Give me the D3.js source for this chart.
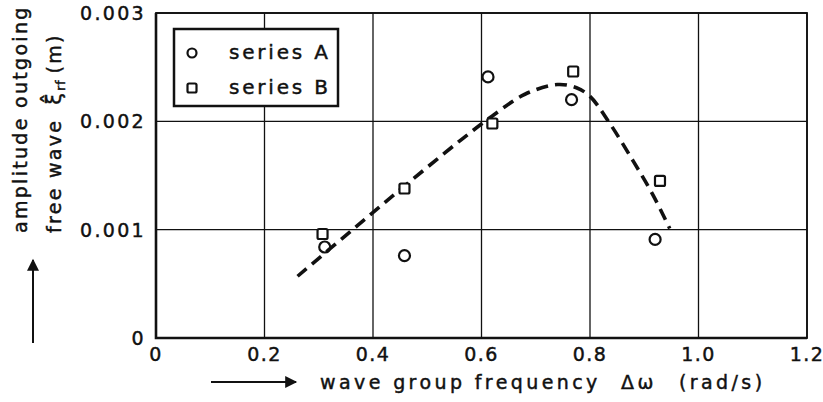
<!DOCTYPE html>
<html>
<head>
<meta charset="utf-8">
<script src="https://cdn.jsdelivr.net/npm/d3@7/dist/d3.min.js"></script>
<style>
  html, body { margin: 0; padding: 0; background: #fff; }
  svg text { font-family: "DejaVu Sans", sans-serif; fill: #111; stroke: #111; stroke-width: 0.45px; }
</style>
</head>
<body>
<svg id="chart" width="823" height="402"></svg>
<script>
// ---- data ----
const xTicks = [0, 0.2, 0.4, 0.6, 0.8, 1.0, 1.2];
const xTickLabels = ["0", "0.2", "0.4", "0.6", "0.8", "1.0", "1.2"];
const yTicks = [0, 0.001, 0.002, 0.003];
const yTickLabels = ["0", "0.001", "0.002", "0.003"];

const seriesAx = [0.311, 0.458, 0.612, 0.766, 0.920];
const seriesAy = [0.00084, 0.00076, 0.00241, 0.00220, 0.00091];
const seriesBx = [0.307, 0.458, 0.620, 0.769, 0.929];
const seriesBy = [0.00096, 0.00138, 0.00198, 0.00246, 0.00145];

const curveX = [0.261, 0.36, 0.46, 0.56, 0.62, 0.68, 0.74, 0.775, 0.80, 0.834, 0.88, 0.915, 0.947];
const curveY = [0.00057, 0.00099, 0.00141, 0.00182, 0.00205, 0.00225, 0.00234, 0.00231, 0.00223, 0.00200, 0.00163, 0.00133, 0.00101];

const legendLabels = ["series A", "series B"];

// ---- layout ----
const svg = d3.select("#chart");
const x = d3.scaleLinear().domain([0, 1.2]).range([156, 807]);
const y = d3.scaleLinear().domain([0, 0.003]).range([338, 13]);
const ink = "#111";

// grid
const g = svg.append("g");
g.selectAll("line.vg").data(xTicks).join("line")
  .attr("x1", d => x(d)).attr("x2", d => x(d))
  .attr("y1", y(0)).attr("y2", y(0.003))
  .attr("stroke", ink).attr("stroke-width", 1.3);
g.selectAll("line.hg").data(yTicks).join("line")
  .attr("x1", x(0)).attr("x2", x(1.2))
  .attr("y1", d => y(d)).attr("y2", d => y(d))
  .attr("stroke", ink).attr("stroke-width", 1.3);

// frame
svg.append("rect")
  .attr("x", x(0)).attr("y", y(0.003))
  .attr("width", x(1.2) - x(0)).attr("height", y(0) - y(0.003))
  .attr("fill", "none").attr("stroke", ink).attr("stroke-width", 1.8);
svg.append("path")
  .attr("d", `M${x(0)},${y(0.003)}V${y(0)}H${x(1.2)}`)
  .attr("fill", "none").attr("stroke", ink).attr("stroke-width", 2.6);

// tick labels
svg.selectAll("text.xt").data(xTicks).join("text")
  .attr("x", d => x(d)).attr("y", 361)
  .attr("text-anchor", "middle")
  .attr("font-size", 19).attr("letter-spacing", 1.5)
  .text((d, i) => xTickLabels[i]);
svg.selectAll("text.yt").data(yTicks).join("text")
  .attr("x", 146).attr("y", d => y(d) + 7)
  .attr("text-anchor", "end")
  .attr("font-size", 19).attr("letter-spacing", 2.3)
  .text((d, i) => yTickLabels[i]);

// legend
const lg = svg.append("g");
lg.append("rect").attr("x", 174).attr("y", 29).attr("width", 164).attr("height", 77)
  .attr("fill", "#fff").attr("stroke", ink).attr("stroke-width", 2.5);
lg.append("circle").attr("cx", 192).attr("cy", 53).attr("r", 4.5)
  .attr("fill", "none").attr("stroke", ink).attr("stroke-width", 2.2);
lg.append("rect").attr("x", 187.5).attr("y", 83.5).attr("width", 9).attr("height", 9).attr("rx", 1.5)
  .attr("fill", "none").attr("stroke", ink).attr("stroke-width", 2.2);
lg.selectAll("text").data(legendLabels).join("text")
  .attr("x", 229).attr("y", (d, i) => 59 + i * 35)
  .attr("font-size", 20).attr("letter-spacing", 2.8)
  .text(d => d);

// dashed curve
const line = d3.line().x(d => x(d[0])).y(d => y(d[1])).curve(d3.curveCatmullRom.alpha(0.5));
svg.append("path")
  .datum(curveX.map((v, i) => [v, curveY[i]]))
  .attr("d", line)
  .attr("fill", "none").attr("stroke", ink).attr("stroke-width", 3.6)
  .attr("stroke-dasharray", "12,7");

// markers
svg.selectAll("circle.a").data(seriesAx).join("circle")
  .attr("cx", d => x(d)).attr("cy", (d, i) => y(seriesAy[i])).attr("r", 5.5)
  .attr("fill", "none").attr("stroke", ink).attr("stroke-width", 2.2);
svg.selectAll("rect.b").data(seriesBx).join("rect")
  .attr("x", d => x(d) - 5).attr("y", (d, i) => y(seriesBy[i]) - 5)
  .attr("width", 10).attr("height", 10).attr("rx", 1.5)
  .attr("fill", "#fff").attr("stroke", ink).attr("stroke-width", 2.2);

// arrowhead
const defs = svg.append("defs");
defs.append("marker").attr("id", "ah").attr("viewBox", "0 0 10 10")
  .attr("refX", 9).attr("refY", 5).attr("markerWidth", 14).attr("markerHeight", 12)
  .attr("markerUnits", "userSpaceOnUse").attr("orient", "auto")
  .append("path").attr("d", "M0,0L10,5L0,10Z").attr("fill", ink);

// x-axis title with arrow
svg.append("line").attr("x1", 211).attr("y1", 382).attr("x2", 296).attr("y2", 382)
  .attr("stroke", ink).attr("stroke-width", 2).attr("marker-end", "url(#ah)");
const xt = svg.append("text").attr("x", 320).attr("y", 389)
  .attr("font-size", 19).attr("letter-spacing", 3.4);
xt.append("tspan").text("wave group frequency");
xt.append("tspan").attr("x", 621).text("Δω");
xt.append("tspan").attr("x", 679).text("(rad/s)");

// y-axis title (rotated, two lines) with arrow
svg.append("line").attr("x1", 33).attr("y1", 343).attr("x2", 33).attr("y2", 260)
  .attr("stroke", ink).attr("stroke-width", 2).attr("marker-end", "url(#ah)");
svg.append("text")
  .attr("transform", "translate(27,233) rotate(-90)")
  .attr("font-size", 19).attr("letter-spacing", 2.3)
  .text("amplitude outgoing");
const yt2 = svg.append("text")
  .attr("transform", "translate(61,233) rotate(-90)")
  .attr("font-size", 19).attr("letter-spacing", 2.3);
yt2.append("tspan").text("free wave");
yt2.append("tspan").attr("dx", 14).attr("font-size", 21).text("ξ̂");
yt2.append("tspan").attr("font-size", 12).attr("dy", 4).attr("letter-spacing", 1).text("rf");
yt2.append("tspan").attr("dy", -4).attr("dx", 6).text("(m)");
</script>
</body>
</html>
